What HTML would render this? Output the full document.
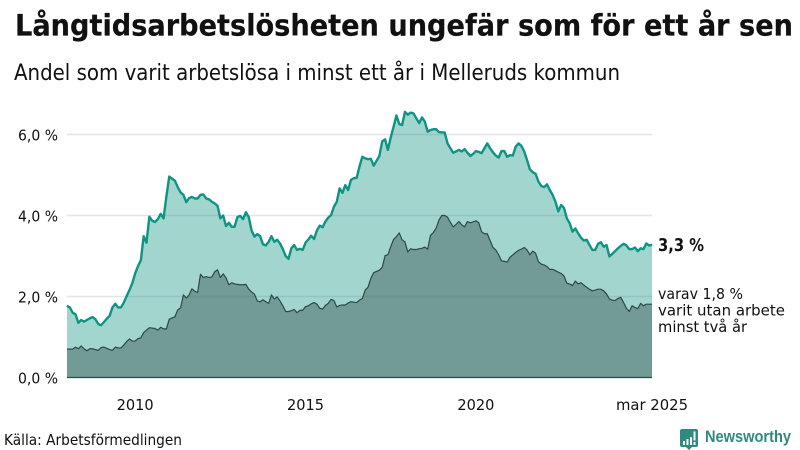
<!DOCTYPE html>
<html lang="sv">
<head>
<meta charset="utf-8">
<title>Långtidsarbetslösheten</title>
<style>
html,body{margin:0;padding:0;background:#fff;width:800px;height:450px;overflow:hidden}
svg{display:block}
text{font-family:"DejaVu Sans","Liberation Sans",sans-serif;fill:#111}
</style>
</head>
<body>
<svg id="chart" width="800" height="450" viewBox="0 0 800 450" xmlns="http://www.w3.org/2000/svg">
<text x="15" y="35.500" font-size="29.500" font-weight="700" stroke="#111" stroke-width="0.2" textLength="778" lengthAdjust="spacingAndGlyphs">Långtidsarbetslösheten ungefär som för ett år sen</text>
<text x="14" y="80" font-size="22" textLength="606" lengthAdjust="spacingAndGlyphs">Andel som varit arbetslösa i minst ett år i Melleruds kommun</text>
<g id="grid"></g>
<g id="y-axis"></g>
<g id="x-axis"></g>
<g id="series"></g>
<text x="658" y="251" font-size="18" font-weight="700" textLength="46" lengthAdjust="spacingAndGlyphs">3,3 %</text>
<text x="658" y="299" font-size="15.500" textLength="85" lengthAdjust="spacingAndGlyphs">varav 1,8 %</text>
<text x="658" y="315.500" font-size="15.500" textLength="127" lengthAdjust="spacingAndGlyphs">varit utan arbete</text>
<text x="658" y="332" font-size="15.500" textLength="89" lengthAdjust="spacingAndGlyphs">minst två år</text>
<text x="4" y="445" font-size="15.500" textLength="178" lengthAdjust="spacingAndGlyphs">Källa: Arbetsförmedlingen</text>
<g>
<path d="M682 429H696Q698 429 698 431V445Q698 447 696 447H692L689 450L686 447H682Q680 447 680 445V431Q680 429 682 429Z" fill="#2f8a80"/>
<rect x="683" y="441" width="2" height="4" fill="#fff"/>
<rect x="686.500" y="439" width="2" height="6" fill="#fff"/>
<rect x="690" y="437" width="2" height="8" fill="#fff"/>
<rect x="693.500" y="431.500" width="2" height="9" fill="#fff"/>
<rect x="693.500" y="442" width="2" height="3" fill="#fff"/>
<text x="705" y="442" font-size="16.500" font-weight="700" textLength="86" lengthAdjust="spacingAndGlyphs" style="font-family:'Liberation Sans',sans-serif;fill:#2f8a80">Newsworthy</text>
</g>
</svg>
<script>
const startYear = 2008;
const yTicks = [0, 2, 4, 6];
const yTickLabels = ["0,0 %", "2,0 %", "4,0 %", "6,0 %"];
const xTickYears = [2010, 2015, 2020];
const xTickLabels = ["2010", "2015", "2020"];
const lastLabel = "mar 2025";
const totalShare = [
1.77,1.73,1.60,1.56,1.35,1.42,1.38,1.42,1.46,1.49,1.44,1.32,1.29,1.37,1.45,1.52,1.73,1.82,1.73,1.73,1.85,2.01,2.16,2.33,2.57,2.75,2.89,
3.49,3.33,3.97,3.87,3.84,3.91,4.04,3.93,4.47,4.96,4.91,4.86,4.70,4.57,4.51,4.33,4.43,4.46,4.42,4.42,4.51,4.52,4.42,4.40,4.34,4.30,4.24,3.93,4.00,3.74,3.82,3.72,3.72,3.96,3.99,3.91,4.08,3.96,3.63,3.48,3.54,3.49,3.29,3.26,3.35,
3.49,3.35,3.40,3.31,3.17,3.00,2.93,3.19,3.27,3.15,3.18,3.15,3.33,3.41,3.50,3.42,3.63,3.75,3.71,3.85,3.95,4.01,4.22,4.34,
4.67,4.56,4.75,4.63,4.88,4.92,4.93,5.21,5.45,5.41,5.39,5.40,5.23,5.35,5.47,5.83,5.88,5.62,5.93,6.19,6.47,6.26,6.23,6.56,6.49,6.54,6.52,6.40,6.28,6.42,6.32,6.07,6.11,6.13,6.13,6.06,6.05,6.05,5.78,5.66,5.55,5.58,5.62,5.58,5.64,5.55,5.47,5.52,5.59,5.57,5.54,5.66,5.78,5.66,5.56,5.48,5.43,5.59,5.59,5.45,5.49,5.48,5.70,5.78,5.72,5.58,5.37,5.14,5.07,5.03,
4.84,4.73,4.70,4.77,4.63,4.51,4.34,4.10,4.26,4.19,3.93,3.81,3.60,3.68,3.56,3.45,3.38,3.40,3.27,3.15,3.15,3.30,3.34,3.23,3.27,2.99,3.05,3.12,3.19,3.25,3.30,3.26,3.17,3.17,3.21,3.12,3.19,3.17,3.31,3.26,3.28
];
const longTermShare = [
0.70,0.70,0.70,0.75,0.71,0.78,0.71,0.66,0.71,0.71,0.69,0.67,0.74,0.75,0.72,0.69,0.67,0.75,0.73,0.73,0.80,0.89,0.95,0.90,0.90,0.96,0.98,1.11,1.17,1.23,1.22,1.21,1.17,1.24,1.20,1.20,1.44,1.47,1.50,1.67,1.72,2.04,1.96,2.04,2.19,2.13,2.10,2.55,2.47,2.49,2.47,2.48,2.61,2.66,2.47,2.56,2.46,2.29,2.34,2.31,2.30,2.29,2.29,2.30,2.18,2.11,2.06,1.89,1.87,1.92,1.87,1.83,
2.04,1.94,1.99,1.89,1.77,1.63,1.63,1.65,1.68,1.60,1.66,1.66,1.75,1.77,1.82,1.85,1.81,1.71,1.69,1.78,1.83,1.93,1.90,1.74,1.78,1.79,1.79,1.84,1.87,1.86,1.85,1.91,1.95,2.16,2.23,2.45,2.59,2.62,2.65,2.72,3.01,3.03,3.23,3.41,3.48,3.57,3.40,3.35,3.10,3.18,3.16,3.16,3.18,3.19,3.22,3.17,3.51,3.58,3.69,3.89,4.00,4.00,3.96,3.83,3.72,3.78,3.85,3.77,3.72,3.85,3.82,3.84,3.87,3.82,3.60,3.55,3.55,3.38,3.21,3.15,3.03,2.88,2.87,2.85,2.97,3.03,3.09,3.14,3.17,3.21,3.15,3.03,3.12,3.07,
2.86,2.80,2.78,2.74,2.67,2.67,2.64,2.60,2.57,2.51,2.33,2.31,2.27,2.38,2.31,2.34,2.28,2.23,2.18,2.14,2.16,2.18,2.18,2.14,2.06,1.94,1.91,1.90,1.95,1.98,1.85,1.71,1.63,1.77,1.73,1.70,1.83,1.77,1.81,1.81,1.81
];

const SVG_NS = "http://www.w3.org/2000/svg";
const plotLeft = 67, plotRight = 652, yZero = 377.5, pxPerPercent = 40.5;
const lastIndex = totalShare.length - 1;

function xScale(monthIndex) {
  return plotLeft + (plotRight - plotLeft) * monthIndex / lastIndex;
}
function yScale(value) {
  return yZero - value * pxPerPercent;
}
function make(tag, parent, attrs, text) {
  const el = document.createElementNS(SVG_NS, tag);
  for (const key in attrs) el.setAttribute(key, attrs[key]);
  if (text !== undefined) el.textContent = text;
  parent.appendChild(el);
  return el;
}
function linePath(values) {
  return values.map((v, i) => (i ? "L" : "M") + xScale(i).toFixed(2) + " " + yScale(v).toFixed(2)).join("");
}
function areaPath(values) {
  return linePath(values) + "L" + xScale(values.length - 1).toFixed(2) + " " + yScale(0) + "L" + xScale(0).toFixed(2) + " " + yScale(0) + "Z";
}

const gridLayer = document.getElementById("grid");
const yAxisLayer = document.getElementById("y-axis");
const xAxisLayer = document.getElementById("x-axis");
const seriesLayer = document.getElementById("series");

yTicks.forEach((tick, i) => {
  if (tick !== 0) {
    const grid = make("line", gridLayer, {x1: plotLeft, x2: plotRight, y1: yScale(tick), y2: yScale(tick), stroke: "#e3e3ea", "stroke-width": 1.5});
    
    
  }
  const label = make("text", yAxisLayer, {x: 58, y: yScale(tick) + 6, "text-anchor": "end", "font-size": 15.5, textLength: 40, lengthAdjust: "spacingAndGlyphs"}, yTickLabels[i]);
  
  
});

xTickYears.forEach((year, i) => {
  const label = make("text", xAxisLayer, {x: xScale((year - startYear) * 12), y: 410, "text-anchor": "middle", "font-size": 15.5, textLength: 37, lengthAdjust: "spacingAndGlyphs"}, xTickLabels[i]);
  
  
});
const endLabel = make("text", xAxisLayer, {x: xScale(lastIndex), y: 410, "text-anchor": "middle", "font-size": 15.5, textLength: 72, lengthAdjust: "spacingAndGlyphs"}, lastLabel);



const totalArea = make("path", seriesLayer, {d: areaPath(totalShare), fill: "#199687", "fill-opacity": 0.4});


const longArea = make("path", seriesLayer, {d: areaPath(longTermShare), fill: "#43655d", "fill-opacity": 0.52});


const totalLine = make("path", seriesLayer, {d: linePath(totalShare), fill: "none", stroke: "#0f9483", "stroke-width": 2.4, "stroke-linejoin": "round"});


const longLine = make("path", seriesLayer, {d: linePath(longTermShare), fill: "none", stroke: "#2b4a46", "stroke-width": 1.2, "stroke-linejoin": "round"});


const baseline = make("line", seriesLayer, {x1: plotLeft, x2: plotRight, y1: yZero, y2: yZero, stroke: "#2b4a46", "stroke-width": 1.2});


</script>
</body>
</html>
